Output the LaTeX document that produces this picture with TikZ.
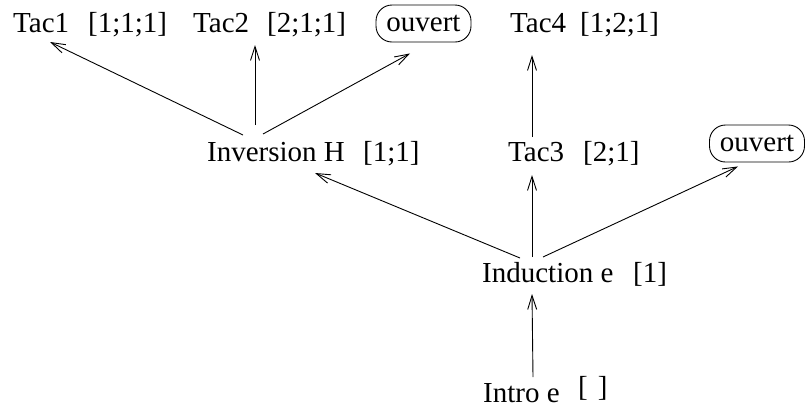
\documentclass[tikz,border=0pt]{standalone}
\usepackage{fontspec}
\setmainfont{Liberation Serif}
\usetikzlibrary{arrows.meta}
\newcommand\nm[2]{\makebox[#1pt][l]{#2}}
\begin{document}
\begin{tikzpicture}[x=1pt,y=-1pt,
  lbl/.style={inner sep=0pt,anchor=base west,font=\fontsize{29}{33}\selectfont},
  openbox/.style={draw,line width=0.9pt,rounded corners=16pt,inner xsep=0pt,minimum width=95pt,minimum height=37pt,inner ysep=0pt,font=\fontsize{29}{33}\selectfont},
  arr/.style={line width=0.9pt,-{Straight Barb[length=14pt,width=9pt,line width=0.9pt]}}]
\path[use as bounding box] (0,0) rectangle (805,408);
\node[lbl] (tac1) at (13,32) {\nm{75}{Tac1}[1;1;1]};
\node[lbl] (tac2) at (193,32) {\nm{74}{Tac2}[2;1;1]};
\node[openbox] (ouv1) at (423.5,23.5) {ouvert};
\node[lbl] (tac4) at (510,32) {\nm{70}{Tac4}[1;2;1]};
\node[lbl] (inv) at (207,161) {\nm{156}{Inversion H}[1;1]};
\node[lbl] (tac3) at (508,161) {\nm{75}{Tac3}[2;1]};
\node[openbox] (ouv2) at (757,143.5) {ouvert};
\node[lbl] (ind) at (482,282) {\nm{151}{Induction e}[1]};
\node[lbl] (intro) at (483,402) {\nm{95}{Intro e}\raisebox{6pt}{[\hspace{10pt}]}};
\draw[arr] ([xshift=36pt,yshift=26pt]inv.base west) -- ([xshift=37pt,yshift=-10pt]tac1.base west);
\draw[arr] ([xshift=48pt,yshift=36pt]inv.base west) -- ([xshift=62pt,yshift=-13pt]tac2.base west);
\draw[arr] ([xshift=56pt,yshift=27pt]inv.base west) -- ([xshift=-13.5pt,yshift=-11pt]ouv1.south);
\draw[arr] ([xshift=24pt,yshift=24pt]tac3.base west) -- ([xshift=22pt,yshift=-23pt]tac4.base west);
\draw[arr] ([xshift=38pt,yshift=24pt]ind.base west) -- ([xshift=108pt,yshift=-12pt]inv.base west);
\draw[arr] ([xshift=50pt,yshift=25pt]ind.base west) -- ([xshift=24pt,yshift=-14pt]tac3.base west);
\draw[arr] ([xshift=61pt,yshift=25pt]ind.base west) -- ([xshift=-19pt,yshift=-4pt]ouv2.south);
\draw[arr] ([xshift=50pt,yshift=25pt]intro.base west) -- ([xshift=50pt,yshift=-12pt]ind.base west);
\end{tikzpicture}
\end{document}
